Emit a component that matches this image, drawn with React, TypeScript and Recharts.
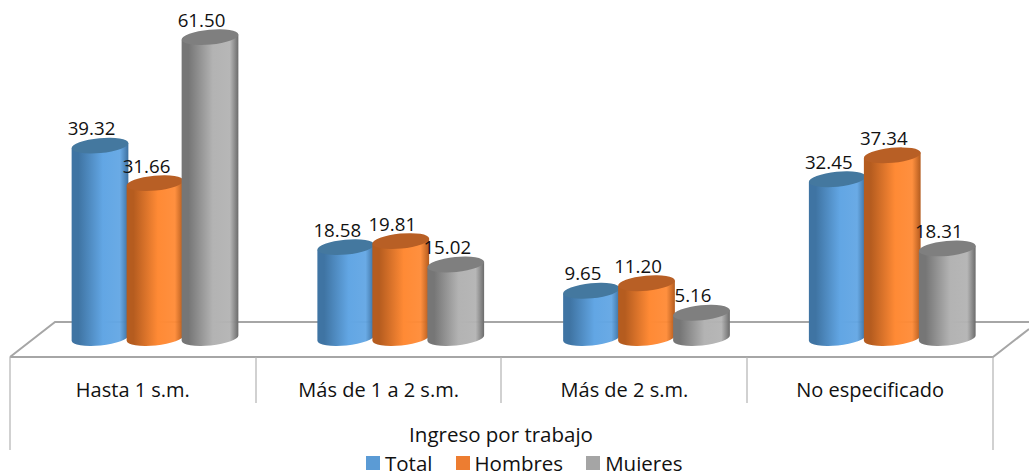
import React from 'react';
import { BarChart, Bar, XAxis, YAxis, Legend, Customized } from 'recharts';

const categories = ['Hasta 1 s.m.', 'Más de 1 a 2 s.m.', 'Más de 2 s.m.', 'No especificado'];
const total = [39.32, 18.58, 9.65, 32.45];
const hombres = [31.66, 19.81, 11.2, 37.34];
const mujeres = [61.5, 15.02, 5.16, 18.31];
const seriesNames = ['Total', 'Hombres', 'Mujeres'];
const axisTitle = 'Ingreso por trabajo';

const data = categories.map((c, i) => ({ c, Total: total[i], Hombres: hombres[i], Mujeres: mujeres[i] }));

const FONT = '"Open Sans", "Noto Sans", sans-serif';
const DEPTH_SHIFT = 22.5;
const TILT = -5.5;
const RY = 7.5;
const GRID = '#a6a6a6';

const palette: Record<string, { legend: string; top: string; edgeL: string; mid: string; edgeR: string }> = {
  Total: { legend: '#5b9bd5', top: '#44789f', edgeL: '#3f74a3', mid: '#62a6e4', edgeR: '#3c6f9e' },
  Hombres: { legend: '#ed7d31', top: '#b85f25', edgeL: '#b55c1f', mid: '#ff8a35', edgeR: '#b35b1e' },
  Mujeres: { legend: '#a5a5a5', top: '#7f7f7f', edgeL: '#767676', mid: '#b3b3b3', edgeR: '#6b6b6b' },
};

const Cylinder = (name: string) => (props: any) => {
  const { x, y, width, height } = props;
  const rx = width / 2;
  const cx = x + rx;
  const rad = (TILT * Math.PI) / 180;
  const dx = rx * Math.cos(rad);
  const dy = rx * Math.sin(rad);
  const base = y + height;
  const d = `M${cx - dx} ${y - dy} L${cx - dx} ${base - dy} A${rx} ${RY} ${TILT} 0 0 ${cx + dx} ${base + dy} L${cx + dx} ${y + dy} Z`;
  return (
    <g>
      <path d={d} fill={`url(#grad${name})`} />
      <ellipse cx={cx} cy={y} rx={rx} ry={RY} fill={palette[name].top} transform={`rotate(${TILT} ${cx} ${y})`} />
    </g>
  );
};

const barLabel = (props: any) => {
  const { x, y, width, value } = props;
  return (
    <text x={x + width / 2 - 8.5} y={y - 10.5} textAnchor="middle" fontFamily={FONT} fontSize={18.7} fill="#111">
      {Number(value).toFixed(2)}
    </text>
  );
};

const Floor = () => (
  <g fill="none" stroke={GRID}>
    <path d="M10 357 L55 322 L1029 322" strokeWidth={2} />
    <path d="M10 357 L993 357 L1029 329" strokeWidth={2} />
    <path d="M10 357 V450 M993 357 V450" strokeWidth={1.2} stroke="#b3b3b3" />
    <path d="M256 357 V403 M501 357 V403 M747 357 V403" strokeWidth={1.2} stroke="#b3b3b3" />
  </g>
);

const CategoryTick = (props: any) => (
  <text x={props.x - DEPTH_SHIFT} y={397} textAnchor="middle" fontFamily={FONT} fontSize={20} fill="#111">
    {props.payload.value}
  </text>
);

const TitleLabel = () => (
  <text x={501} y={442} textAnchor="middle" fontFamily={FONT} fontSize={20.5} fill="#111">
    {axisTitle}
  </text>
);

const LegendContent = () => (
  <div style={{ display: 'flex', position: 'absolute', left: 366, top: 449, height: 22, overflow: 'hidden', fontFamily: FONT, fontSize: 20.5, color: '#111', lineHeight: '28px', whiteSpace: 'nowrap' }}>
    {seriesNames.map((n) => (
      <div key={n} style={{ display: 'flex', marginRight: 23 }}>
        <span style={{ width: 14, height: 14, marginTop: 7, marginRight: 5, background: palette[n].legend, display: 'inline-block' }} />
        <span>{n}</span>
      </div>
    ))}
  </div>
);

export default function App() {
  return (
    <div style={{ position: 'absolute', left: 0, top: 0, width: 1029, height: 471, overflow: 'hidden', background: '#fff' }}>
      <BarChart
        width={1029}
        height={471}
        data={data}
        barSize={57}
        barGap={-2}
        margin={{ top: 20, right: 13.5, bottom: 73, left: 32.5 }}
      >
        <defs>
          {seriesNames.map((n) => (
            <linearGradient key={n} id={`grad${n}`} x1="0" y1="0" x2="1" y2="0">
              <stop offset="0%" stopColor={palette[n].edgeL} />
              <stop offset="12%" stopColor={palette[n].edgeL} />
              <stop offset="55%" stopColor={palette[n].mid} />
              <stop offset="85%" stopColor={palette[n].mid} stopOpacity={0.95} />
              <stop offset="100%" stopColor={palette[n].edgeR} />
            </linearGradient>
          ))}
        </defs>
        <Customized component={Floor} />
        <XAxis dataKey="c" height={60} axisLine={false} tickLine={false} tick={CategoryTick} interval={0} label={{ content: TitleLabel }} />
        <YAxis hide domain={[0, 65]} />
        <Legend content={LegendContent} wrapperStyle={{ position: 'absolute', left: 0, top: 0, width: 0, height: 0 }} />
        {seriesNames.map((n) => (
          <Bar key={n} dataKey={n} isAnimationActive={false} shape={Cylinder(n)} label={barLabel} />
        ))}
      </BarChart>
    </div>
  );
}
